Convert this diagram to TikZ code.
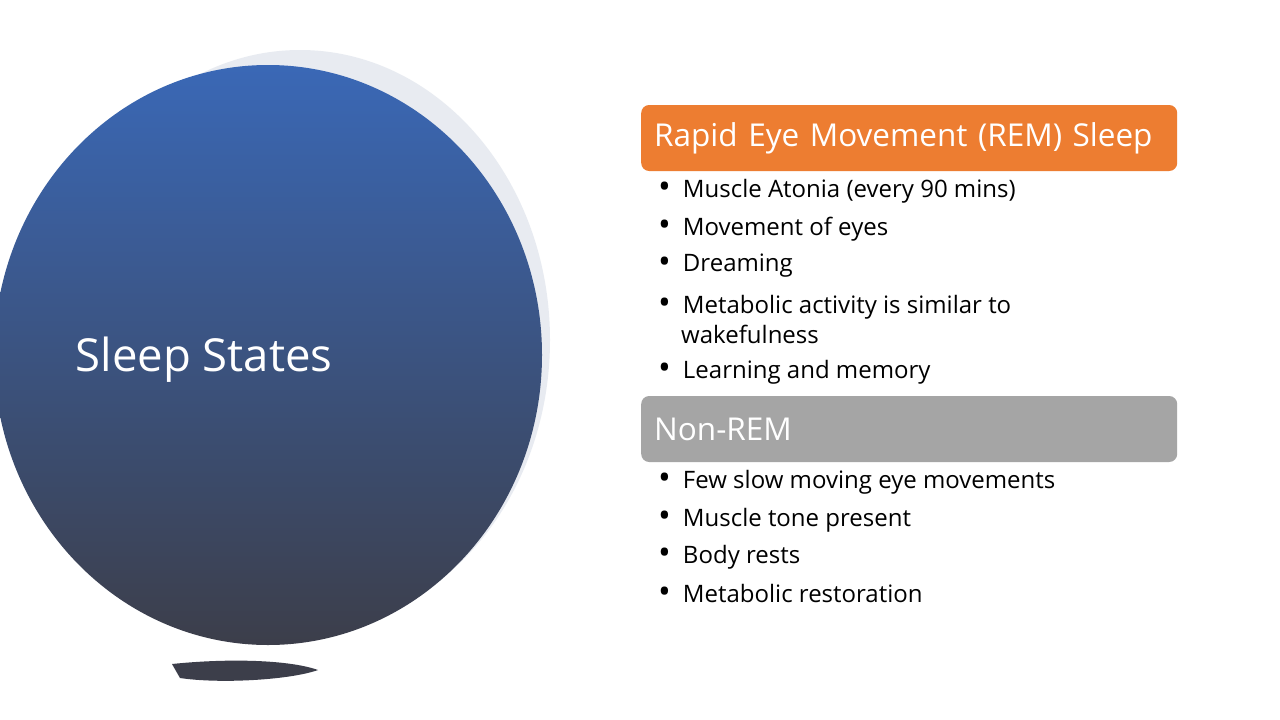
\documentclass[tikz,border=0pt]{standalone}
\usepackage{fontspec}
\setmainfont{Open Sans}
\definecolor{topblue}{RGB}{58,104,182}
\definecolor{botdark}{RGB}{60,62,74}
\definecolor{orng}{RGB}{237,125,49}
\definecolor{gry}{RGB}{165,165,165}
\definecolor{splash}{RGB}{205,212,225}
\newcommand{\bdot}{{\fontsize{34}{30}\selectfont\raisebox{-1.5pt}{•}}\hspace{12pt}}
\begin{document}
\begin{tikzpicture}[x=1pt,y=-1pt,
  hdr/.style={anchor=west,rounded corners=8pt,minimum width=536pt,minimum height=66pt,inner xsep=13pt,text=white,font=\fontsize{31.5}{36}\selectfont,text width=510pt,align=left},
  bul/.style={anchor=west,font=\fontsize{24}{30}\selectfont,text=black,inner sep=0pt,align=left}]
\useasboundingbox (0,0) rectangle (1280,720);
\fill[white] (0,0) rectangle (1280,720);
\begin{scope}
\clip (0,0) rectangle (1280,720);
\fill[splash,opacity=0.45] (300,340) ellipse (250pt and 290pt);
\fill[botdark] (172,664) .. controls (230,658) and (290,660) .. (318,670) .. controls (290,680) and (220,684) .. (180,678) -- cycle;
\shade[top color=topblue,bottom color=botdark] (268,355) ellipse (274pt and 290pt);
\end{scope}
\node[anchor=west,text=white,font=\fontsize{45.5}{52}\selectfont] (title) at (72,360) {Sleep States};
\node[hdr,fill=orng] (rem) at (641,138) {Rapid Eye Movement (REM) Sleep};
\node[bul] (r1) at (658,191) {\bdot Muscle Atonia (every 90 mins)};
\node[bul] (r2) at (658,229) {\bdot Movement of eyes};
\node[bul] (r3) at (658,266) {\bdot Dreaming};
\node[bul] (r4) at (658,319) {\bdot Metabolic activity is similar to\\\hspace{23pt}wakefulness};
\node[bul] (r5) at (658,372) {\bdot Learning and memory};
\node[hdr,fill=gry] (nrem) at (641,429) {Non-REM};
\node[bul] (n1) at (658,482) {\bdot Few slow moving eye movements};
\node[bul] (n2) at (658,520) {\bdot Muscle tone present};
\node[bul] (n3) at (658,557) {\bdot Body rests};
\node[bul] (n4) at (658,594) {\bdot Metabolic restoration};
\end{tikzpicture}
\end{document}
